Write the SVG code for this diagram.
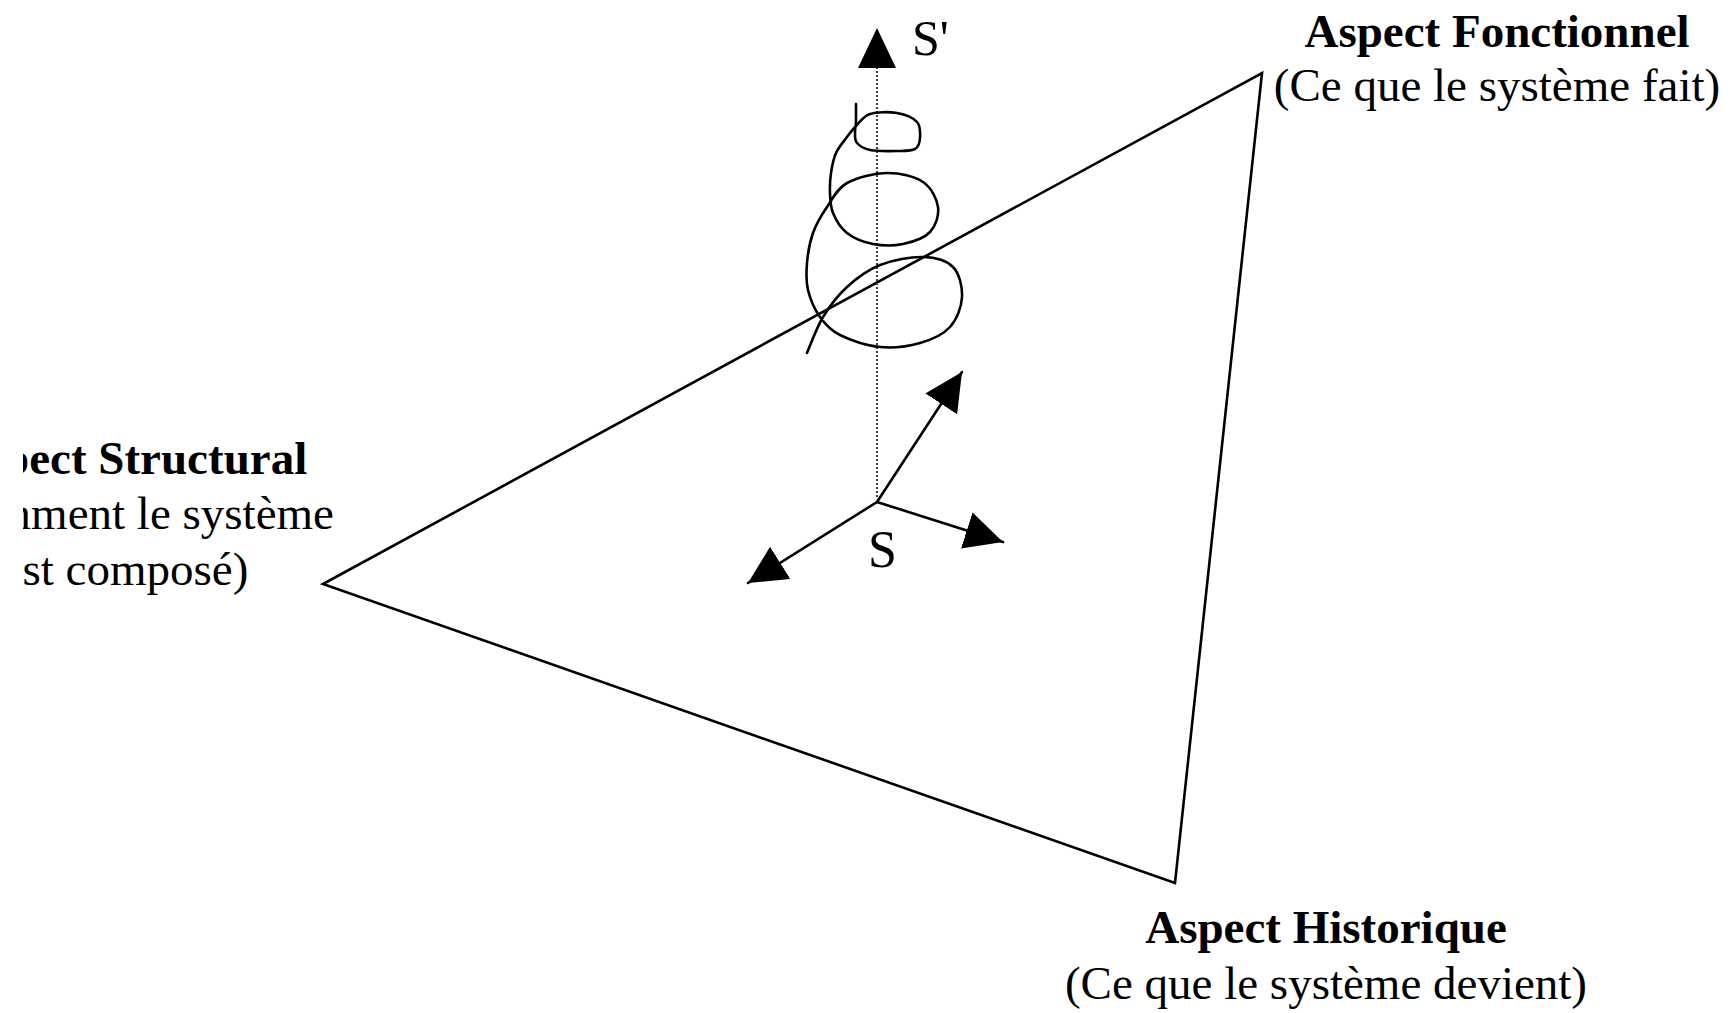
<svg xmlns="http://www.w3.org/2000/svg" width="1730" height="1013" viewBox="0 0 1730 1013">
<style>
.lbl{font-family:"Liberation Serif","Times New Roman",serif;font-size:47px;fill:#000;text-anchor:middle}
.b{font-weight:bold}
.ln{fill:none;stroke:#000;stroke-width:2.6;stroke-linejoin:round;stroke-linecap:round}
.sym{font-family:"Liberation Serif","Times New Roman",serif;fill:#000}
</style>
<defs>
<marker id="ah" markerUnits="userSpaceOnUse" markerWidth="40" markerHeight="40" refX="38" refY="19" orient="auto" viewBox="0 0 40 40">
<path d="M0,0 L38,19 L0,38 z" fill="#000"/>
</marker>
<clipPath id="clipL"><rect x="23" y="0" width="1707" height="1013"/></clipPath>
</defs>
<rect width="1730" height="1013" fill="#fff"/>

<g id="triangle">
<polygon points="323,584 1262,73 1175,883" fill="none" stroke="#000" stroke-width="2.6" stroke-linejoin="miter"/>
</g>

<g id="connectors">
<line x1="877" y1="497" x2="877" y2="66" stroke="#444" stroke-width="2.2" stroke-dasharray="2,2"/>
<polygon points="877,28 858,68 896,68" fill="#000"/>
<line class="ln" x1="877" y1="502" x2="962" y2="372" marker-end="url(#ah)"/>
<line class="ln" x1="877" y1="502" x2="1003" y2="542" marker-end="url(#ah)"/>
<line class="ln" x1="877" y1="502" x2="748" y2="583" marker-end="url(#ah)"/>
</g>

<g id="helix">
<path class="ln" d="M807,353 C809.7,347 816.3,328 823,317 C829.7,306 837.5,295.7 847,287 C856.5,278.3 867.3,270 880,265 C892.7,260 910.8,256.7 923,257 C935.2,257.3 946.5,260.3 953,267 C959.5,273.7 962.5,287 962,297 C961.5,307 957,319.3 950,327 C943,334.7 931.7,339.7 920,343 C908.3,346.3 893.3,348.3 880,347 C866.7,345.7 850,340 840,335 C830,330 825.3,324.5 820,317 C814.7,309.5 810.2,299 808,290 C805.8,281 806.2,272.5 807,263 C807.8,253.5 809.7,242.3 813,233 C816.3,223.7 821.3,215.3 827,207 C832.7,198.7 837,188.7 847,183 C857,177.3 874.3,173.2 887,173 C899.7,172.8 914.5,176.3 923,182 C931.5,187.7 936.8,198.7 938,207 C939.2,215.3 935.8,225.8 930,232 C924.2,238.2 912.5,242 903,244 C893.5,246 882.3,245.8 873,244 C863.7,242.2 853.7,238.2 847,233 C840.3,227.8 835.8,219.7 833,213 C830.2,206.3 830.3,199.7 830,193 C829.7,186.3 830,179.7 831,173 C832,166.3 833.3,159 836,153 C838.7,147 843.7,141.5 847,137 C850.3,132.5 852.2,129.8 856,126 C859.8,122.2 863.2,116.2 870,114 C876.8,111.8 889.2,111.7 897,113 C904.8,114.3 913.2,117.8 917,122 C920.8,126.2 920.3,133.5 920,138 C919.7,142.5 918.8,146.8 915,149 C911.2,151.2 904.5,150.8 897,151 C889.5,151.2 876.7,151.3 870,150 C863.3,148.7 859.5,145.8 857,143 C854.5,140.2 855.2,136.3 855,133 C854.8,129.7 855.8,124.7 856,123 L856,104"/>
</g>

<g id="label-S">
<text class="sym" x="868" y="567" font-size="52">S</text>
</g>
<g id="label-Sprime">
<text class="sym" x="912" y="55" font-size="50">S'</text>
</g>

<g id="node-fonctionnel">
<text class="lbl b" x="1497" y="47">Aspect Fonctionnel</text>
<text class="lbl" x="1497" y="101">(Ce que le système fait)</text>
</g>

<g id="node-historique">
<text class="lbl b" x="1326" y="943">Aspect Historique</text>
<text class="lbl" x="1326" y="999">(Ce que le système devient)</text>
</g>

<g id="node-structural" clip-path="url(#clipL)">
<text class="lbl b" x="129" y="474">Aspect Structural</text>
<text class="lbl" x="129" y="529">(Comment le système</text>
<text class="lbl" x="125" y="585">est composé)</text>
</g>
</svg>
